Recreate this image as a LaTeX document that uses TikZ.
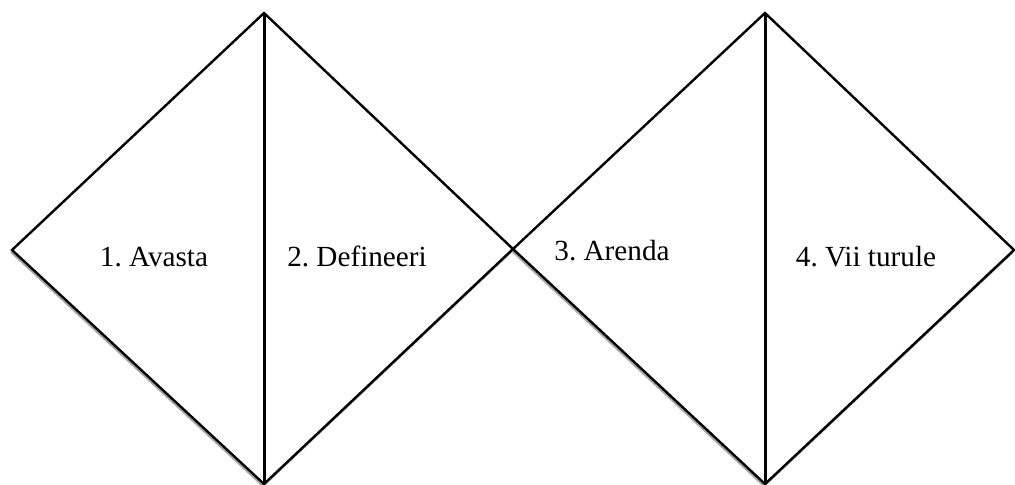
\documentclass[tikz,border=0pt]{standalone}
\usepackage{fontspec}
\setmainfont{Liberation Serif}
\usetikzlibrary{positioning,calc}
\frenchspacing

\begin{document}
\begin{tikzpicture}[
    x=0.5pt, y=-0.5pt,
    every node/.style={font=\fontsize{14.6}{17}\selectfont},
    edge/.style={draw=black, line width=1.2pt, line join=miter},
    split/.style={draw=black, line width=1.5pt},
    shade/.style={draw=black!35, line width=1pt},
    label/.style={inner sep=0pt, anchor=base},
]
\useasboundingbox (0,0) rectangle (1015,484);
% first diamond
\coordinate (lA) at (12,250);
\coordinate (tA) at (264,13);
\coordinate (bA) at (264,484);
\coordinate (rA) at (513,249);
% second diamond
\coordinate (lB) at (513,249);
\coordinate (tB) at (765,13);
\coordinate (bB) at (765,484);
\coordinate (rB) at (1014,250);
% light shadow under the lower edges
\draw[shade] ([shift={(-1,2)}]lA) -- ([shift={(-1,2)}]bA) -- ([shift={(-1,2)}]rA);
\draw[shade] ([shift={(-1,2)}]lB) -- ([shift={(-1,2)}]bB) -- ([shift={(-1,2)}]rB);
\draw[edge] (lA) -- (tA) -- (rA) -- (bA) -- cycle;
\draw[edge] (lB) -- (tB) -- (rB) -- (bB) -- cycle;
\draw[split] (tA) -- (bA);
\draw[split] (tB) -- (bB);
\node[label] (avasta) at (154,266) {1. Avasta};
\node[label] (defin) at (357,266) {2. Defineeri};
\node[label] (arenda) at (612,260) {3. Arenda};
\node[label] (turule) at (866,266) {4. Vii turule};
\end{tikzpicture}
\end{document}
